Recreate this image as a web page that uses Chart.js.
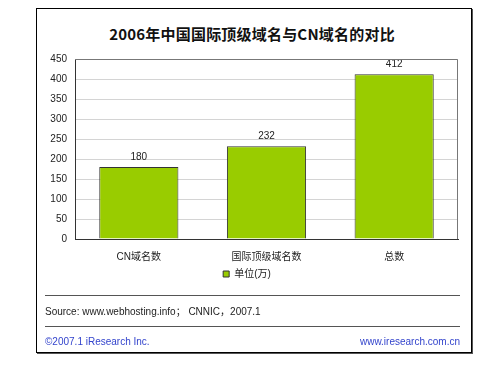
<!DOCTYPE html>
<html><head><meta charset="utf-8">
<script src="https://cdn.jsdelivr.net/npm/chart.js@4"></script>
<style>
body{margin:0;width:500px;height:373px;background:#fff;position:relative;overflow:hidden;font-family:"Liberation Sans",Arial,"Noto Sans CJK SC",sans-serif}
#frame{position:absolute;left:36px;top:8px;width:434px;height:343px;border:1px solid #000;box-shadow:1px 1px 0 #555}
#title{position:absolute;left:0;width:504px;top:23px;text-align:center;font:bold 15px "Noto Sans CJK SC",sans-serif;letter-spacing:0.2px;color:#111}
.hl{position:absolute;left:45px;width:415px;height:1px;background:#555}
.txt{position:absolute;font-size:10px;line-height:12px;white-space:nowrap}
#c{position:absolute;left:0;top:0}
</style></head>
<body>
<div id="frame"></div>
<div id="title">2006年中国国际顶级域名与CN域名的对比</div>
<canvas id="c" width="500" height="373"></canvas>
<div class="hl" style="top:295px"></div>
<div class="txt" style="left:45px;top:306px;color:#222">Source: www.webhosting.info；&nbsp;CNNIC，2007.1</div>
<div class="hl" style="top:326px"></div>
<div class="txt" style="left:45px;top:336px;color:#3344cc">©2007.1 iResearch Inc.</div>
<div class="txt" style="right:40px;top:336px;color:#3344cc">www.iresearch.com.cn</div>
<script>
const categories = ["CN域名数", "国际顶级域名数", "总数"];
const seriesName = "单位(万)";
const values = [180, 232, 412];
const yTicks = [0, 50, 100, 150, 200, 250, 300, 350, 400, 450];

const FONT = '"Liberation Sans", Arial, "Noto Sans CJK SC", sans-serif';

const valueLabels = {
  id: 'valueLabels',
  afterDatasetsDraw(chart) {
    const ctx = chart.ctx;
    const meta = chart.getDatasetMeta(0);
    ctx.save();
    ctx.font = '10px ' + FONT;
    ctx.fillStyle = '#222';
    ctx.textAlign = 'center';
    ctx.textBaseline = 'middle';
    meta.data.forEach((bar, i) => {
      ctx.fillText(String(chart.data.datasets[0].data[i]), bar.x, bar.y - 10);
    });
    ctx.restore();
  }
};
const plotBorder = {
  id: 'plotBorder',
  afterDraw(chart) {
    const a = chart.chartArea, ctx = chart.ctx;
    ctx.save();
    ctx.strokeStyle = '#777';
    ctx.lineWidth = 1;
    ctx.beginPath();
    ctx.moveTo(a.left, a.top + 0.5);
    ctx.lineTo(a.right - 0.5, a.top + 0.5);
    ctx.lineTo(a.right - 0.5, a.bottom);
    ctx.stroke();
    ctx.restore();
  }
};

new Chart(document.getElementById('c'), {
  type: 'bar',
  data: {
    labels: categories,
    datasets: [{
      label: seriesName,
      data: values,
      backgroundColor: '#99cc00',
      borderColor: '#333',
      borderWidth: 1,
      barPercentage: 0.62,
      categoryPercentage: 1
    }]
  },
  options: {
    responsive: false,
    devicePixelRatio: 1,
    animation: false,
    layout: { padding: { left: 36, right: 42, top: 59, bottom: 84 } },
    plugins: {
      legend: {
        position: 'bottom',
        labels: {
          boxWidth: 6, boxHeight: 6, padding: 4,
          color: '#222',
          font: { size: 10, family: FONT }
        }
      },
      tooltip: { enabled: false },
      title: { display: false }
    },
    scales: {
      x: {
        grid: { display: false, drawTicks: false },
        border: { color: '#333', width: 1 },
        ticks: { color: '#222', font: { size: 10, family: FONT }, padding: 12 },
        afterFit(s) { s.height = 26; }
      },
      y: {
        min: 0, max: 450,
        afterBuildTicks(s) { s.ticks = yTicks.map(v => ({ value: v })); },
        grid: { color: '#d4d4d4', drawTicks: false },
        border: { color: '#333', width: 1 },
        ticks: { color: '#222', font: { size: 10, family: FONT }, padding: 8 },
        afterFit(s) { s.width = 39; }
      }
    }
  },
  plugins: [valueLabels, plotBorder]
});
</script>
</body></html>
